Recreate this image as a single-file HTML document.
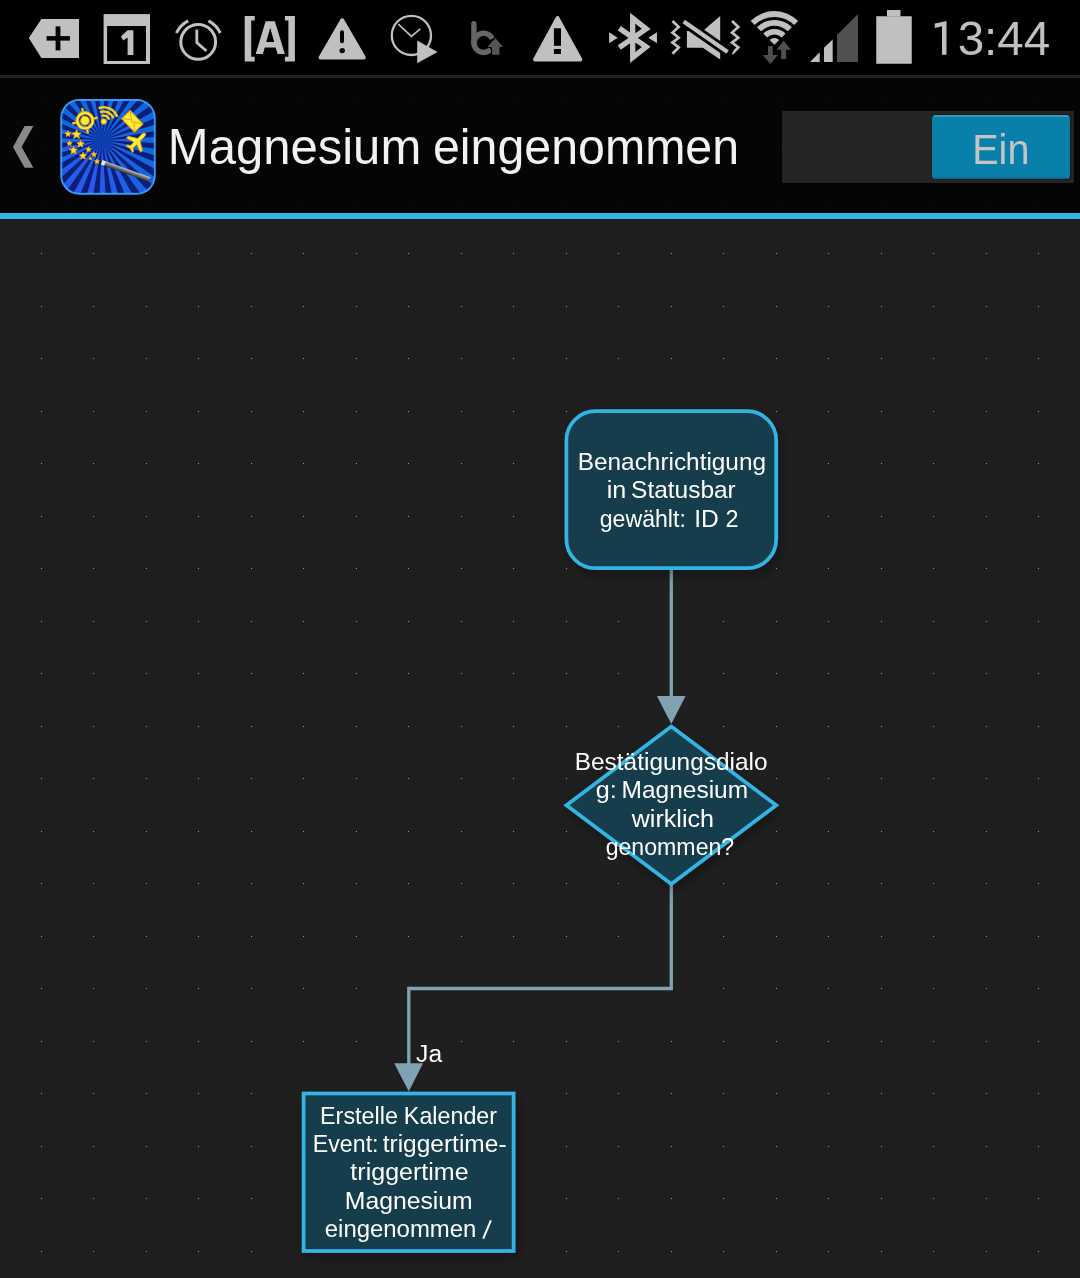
<!DOCTYPE html>
<html><head><meta charset="utf-8">
<style>
html,body{margin:0;padding:0;}
body{width:1080px;height:1278px;overflow:hidden;position:relative;background:#1f1f1f;font-family:"Liberation Sans",sans-serif;}
svg{position:absolute;left:0;top:0;}
</style></head><body>
<svg width="1080" height="1278" viewBox="0 0 1080 1278" style="font-family:'Liberation Sans',sans-serif">
<defs>
<filter id="sh" x="-30%" y="-30%" width="160%" height="160%"><feGaussianBlur in="SourceAlpha" stdDeviation="7"/><feOffset dx="3" dy="5"/><feComponentTransfer><feFuncA type="linear" slope="0.35"/></feComponentTransfer><feMerge><feMergeNode/><feMergeNode in="SourceGraphic"/></feMerge></filter>
<linearGradient id="wand" x1="0" y1="0" x2="0" y2="1"><stop offset="0" stop-color="#c8c8c8"/><stop offset="0.5" stop-color="#707070"/><stop offset="1" stop-color="#303030"/></linearGradient>
<radialGradient id="icbg" cx="0.25" cy="0.95" r="0.9"><stop offset="0" stop-color="#2a58f0"/><stop offset="1" stop-color="#1068de"/></radialGradient><radialGradient id="icc" cx="0.5" cy="0.5" r="0.5"><stop offset="0" stop-color="#0c3cb0" stop-opacity="1"/><stop offset="1" stop-color="#0c3cb0" stop-opacity="0"/></radialGradient>
<clipPath id="iclip"><rect x="62.2" y="100.9" width="91.6" height="91.9" rx="17"/></clipPath>
</defs>
<!-- canvas dots -->
<g fill="#9a9a9a"><rect x="41" y="96" width="1" height="1"/><rect x="41" y="148" width="1" height="1"/><rect x="41" y="201" width="1" height="1"/><rect x="41" y="253" width="1" height="1"/><rect x="41" y="306" width="1" height="1"/><rect x="41" y="358" width="1" height="1"/><rect x="41" y="411" width="1" height="1"/><rect x="41" y="463" width="1" height="1"/><rect x="41" y="516" width="1" height="1"/><rect x="41" y="568" width="1" height="1"/><rect x="41" y="621" width="1" height="1"/><rect x="41" y="673" width="1" height="1"/><rect x="41" y="726" width="1" height="1"/><rect x="41" y="778" width="1" height="1"/><rect x="41" y="831" width="1" height="1"/><rect x="41" y="883" width="1" height="1"/><rect x="41" y="936" width="1" height="1"/><rect x="41" y="988" width="1" height="1"/><rect x="41" y="1041" width="1" height="1"/><rect x="41" y="1093" width="1" height="1"/><rect x="41" y="1146" width="1" height="1"/><rect x="41" y="1198" width="1" height="1"/><rect x="41" y="1251" width="1" height="1"/><rect x="93" y="96" width="1" height="1"/><rect x="93" y="148" width="1" height="1"/><rect x="93" y="201" width="1" height="1"/><rect x="93" y="253" width="1" height="1"/><rect x="93" y="306" width="1" height="1"/><rect x="93" y="358" width="1" height="1"/><rect x="93" y="411" width="1" height="1"/><rect x="93" y="463" width="1" height="1"/><rect x="93" y="516" width="1" height="1"/><rect x="93" y="568" width="1" height="1"/><rect x="93" y="621" width="1" height="1"/><rect x="93" y="673" width="1" height="1"/><rect x="93" y="726" width="1" height="1"/><rect x="93" y="778" width="1" height="1"/><rect x="93" y="831" width="1" height="1"/><rect x="93" y="883" width="1" height="1"/><rect x="93" y="936" width="1" height="1"/><rect x="93" y="988" width="1" height="1"/><rect x="93" y="1041" width="1" height="1"/><rect x="93" y="1093" width="1" height="1"/><rect x="93" y="1146" width="1" height="1"/><rect x="93" y="1198" width="1" height="1"/><rect x="93" y="1251" width="1" height="1"/><rect x="146" y="96" width="1" height="1"/><rect x="146" y="148" width="1" height="1"/><rect x="146" y="201" width="1" height="1"/><rect x="146" y="253" width="1" height="1"/><rect x="146" y="306" width="1" height="1"/><rect x="146" y="358" width="1" height="1"/><rect x="146" y="411" width="1" height="1"/><rect x="146" y="463" width="1" height="1"/><rect x="146" y="516" width="1" height="1"/><rect x="146" y="568" width="1" height="1"/><rect x="146" y="621" width="1" height="1"/><rect x="146" y="673" width="1" height="1"/><rect x="146" y="726" width="1" height="1"/><rect x="146" y="778" width="1" height="1"/><rect x="146" y="831" width="1" height="1"/><rect x="146" y="883" width="1" height="1"/><rect x="146" y="936" width="1" height="1"/><rect x="146" y="988" width="1" height="1"/><rect x="146" y="1041" width="1" height="1"/><rect x="146" y="1093" width="1" height="1"/><rect x="146" y="1146" width="1" height="1"/><rect x="146" y="1198" width="1" height="1"/><rect x="146" y="1251" width="1" height="1"/><rect x="198" y="96" width="1" height="1"/><rect x="198" y="148" width="1" height="1"/><rect x="198" y="201" width="1" height="1"/><rect x="198" y="253" width="1" height="1"/><rect x="198" y="306" width="1" height="1"/><rect x="198" y="358" width="1" height="1"/><rect x="198" y="411" width="1" height="1"/><rect x="198" y="463" width="1" height="1"/><rect x="198" y="516" width="1" height="1"/><rect x="198" y="568" width="1" height="1"/><rect x="198" y="621" width="1" height="1"/><rect x="198" y="673" width="1" height="1"/><rect x="198" y="726" width="1" height="1"/><rect x="198" y="778" width="1" height="1"/><rect x="198" y="831" width="1" height="1"/><rect x="198" y="883" width="1" height="1"/><rect x="198" y="936" width="1" height="1"/><rect x="198" y="988" width="1" height="1"/><rect x="198" y="1041" width="1" height="1"/><rect x="198" y="1093" width="1" height="1"/><rect x="198" y="1146" width="1" height="1"/><rect x="198" y="1198" width="1" height="1"/><rect x="198" y="1251" width="1" height="1"/><rect x="251" y="96" width="1" height="1"/><rect x="251" y="148" width="1" height="1"/><rect x="251" y="201" width="1" height="1"/><rect x="251" y="253" width="1" height="1"/><rect x="251" y="306" width="1" height="1"/><rect x="251" y="358" width="1" height="1"/><rect x="251" y="411" width="1" height="1"/><rect x="251" y="463" width="1" height="1"/><rect x="251" y="516" width="1" height="1"/><rect x="251" y="568" width="1" height="1"/><rect x="251" y="621" width="1" height="1"/><rect x="251" y="673" width="1" height="1"/><rect x="251" y="726" width="1" height="1"/><rect x="251" y="778" width="1" height="1"/><rect x="251" y="831" width="1" height="1"/><rect x="251" y="883" width="1" height="1"/><rect x="251" y="936" width="1" height="1"/><rect x="251" y="988" width="1" height="1"/><rect x="251" y="1041" width="1" height="1"/><rect x="251" y="1093" width="1" height="1"/><rect x="251" y="1146" width="1" height="1"/><rect x="251" y="1198" width="1" height="1"/><rect x="251" y="1251" width="1" height="1"/><rect x="303" y="96" width="1" height="1"/><rect x="303" y="148" width="1" height="1"/><rect x="303" y="201" width="1" height="1"/><rect x="303" y="253" width="1" height="1"/><rect x="303" y="306" width="1" height="1"/><rect x="303" y="358" width="1" height="1"/><rect x="303" y="411" width="1" height="1"/><rect x="303" y="463" width="1" height="1"/><rect x="303" y="516" width="1" height="1"/><rect x="303" y="568" width="1" height="1"/><rect x="303" y="621" width="1" height="1"/><rect x="303" y="673" width="1" height="1"/><rect x="303" y="726" width="1" height="1"/><rect x="303" y="778" width="1" height="1"/><rect x="303" y="831" width="1" height="1"/><rect x="303" y="883" width="1" height="1"/><rect x="303" y="936" width="1" height="1"/><rect x="303" y="988" width="1" height="1"/><rect x="303" y="1041" width="1" height="1"/><rect x="303" y="1093" width="1" height="1"/><rect x="303" y="1146" width="1" height="1"/><rect x="303" y="1198" width="1" height="1"/><rect x="303" y="1251" width="1" height="1"/><rect x="356" y="96" width="1" height="1"/><rect x="356" y="148" width="1" height="1"/><rect x="356" y="201" width="1" height="1"/><rect x="356" y="253" width="1" height="1"/><rect x="356" y="306" width="1" height="1"/><rect x="356" y="358" width="1" height="1"/><rect x="356" y="411" width="1" height="1"/><rect x="356" y="463" width="1" height="1"/><rect x="356" y="516" width="1" height="1"/><rect x="356" y="568" width="1" height="1"/><rect x="356" y="621" width="1" height="1"/><rect x="356" y="673" width="1" height="1"/><rect x="356" y="726" width="1" height="1"/><rect x="356" y="778" width="1" height="1"/><rect x="356" y="831" width="1" height="1"/><rect x="356" y="883" width="1" height="1"/><rect x="356" y="936" width="1" height="1"/><rect x="356" y="988" width="1" height="1"/><rect x="356" y="1041" width="1" height="1"/><rect x="356" y="1093" width="1" height="1"/><rect x="356" y="1146" width="1" height="1"/><rect x="356" y="1198" width="1" height="1"/><rect x="356" y="1251" width="1" height="1"/><rect x="408" y="96" width="1" height="1"/><rect x="408" y="148" width="1" height="1"/><rect x="408" y="201" width="1" height="1"/><rect x="408" y="253" width="1" height="1"/><rect x="408" y="306" width="1" height="1"/><rect x="408" y="358" width="1" height="1"/><rect x="408" y="411" width="1" height="1"/><rect x="408" y="463" width="1" height="1"/><rect x="408" y="516" width="1" height="1"/><rect x="408" y="568" width="1" height="1"/><rect x="408" y="621" width="1" height="1"/><rect x="408" y="673" width="1" height="1"/><rect x="408" y="726" width="1" height="1"/><rect x="408" y="778" width="1" height="1"/><rect x="408" y="831" width="1" height="1"/><rect x="408" y="883" width="1" height="1"/><rect x="408" y="936" width="1" height="1"/><rect x="408" y="988" width="1" height="1"/><rect x="408" y="1041" width="1" height="1"/><rect x="408" y="1093" width="1" height="1"/><rect x="408" y="1146" width="1" height="1"/><rect x="408" y="1198" width="1" height="1"/><rect x="408" y="1251" width="1" height="1"/><rect x="461" y="96" width="1" height="1"/><rect x="461" y="148" width="1" height="1"/><rect x="461" y="201" width="1" height="1"/><rect x="461" y="253" width="1" height="1"/><rect x="461" y="306" width="1" height="1"/><rect x="461" y="358" width="1" height="1"/><rect x="461" y="411" width="1" height="1"/><rect x="461" y="463" width="1" height="1"/><rect x="461" y="516" width="1" height="1"/><rect x="461" y="568" width="1" height="1"/><rect x="461" y="621" width="1" height="1"/><rect x="461" y="673" width="1" height="1"/><rect x="461" y="726" width="1" height="1"/><rect x="461" y="778" width="1" height="1"/><rect x="461" y="831" width="1" height="1"/><rect x="461" y="883" width="1" height="1"/><rect x="461" y="936" width="1" height="1"/><rect x="461" y="988" width="1" height="1"/><rect x="461" y="1041" width="1" height="1"/><rect x="461" y="1093" width="1" height="1"/><rect x="461" y="1146" width="1" height="1"/><rect x="461" y="1198" width="1" height="1"/><rect x="461" y="1251" width="1" height="1"/><rect x="513" y="96" width="1" height="1"/><rect x="513" y="148" width="1" height="1"/><rect x="513" y="201" width="1" height="1"/><rect x="513" y="253" width="1" height="1"/><rect x="513" y="306" width="1" height="1"/><rect x="513" y="358" width="1" height="1"/><rect x="513" y="411" width="1" height="1"/><rect x="513" y="463" width="1" height="1"/><rect x="513" y="516" width="1" height="1"/><rect x="513" y="568" width="1" height="1"/><rect x="513" y="621" width="1" height="1"/><rect x="513" y="673" width="1" height="1"/><rect x="513" y="726" width="1" height="1"/><rect x="513" y="778" width="1" height="1"/><rect x="513" y="831" width="1" height="1"/><rect x="513" y="883" width="1" height="1"/><rect x="513" y="936" width="1" height="1"/><rect x="513" y="988" width="1" height="1"/><rect x="513" y="1041" width="1" height="1"/><rect x="513" y="1093" width="1" height="1"/><rect x="513" y="1146" width="1" height="1"/><rect x="513" y="1198" width="1" height="1"/><rect x="513" y="1251" width="1" height="1"/><rect x="566" y="96" width="1" height="1"/><rect x="566" y="148" width="1" height="1"/><rect x="566" y="201" width="1" height="1"/><rect x="566" y="253" width="1" height="1"/><rect x="566" y="306" width="1" height="1"/><rect x="566" y="358" width="1" height="1"/><rect x="566" y="411" width="1" height="1"/><rect x="566" y="463" width="1" height="1"/><rect x="566" y="516" width="1" height="1"/><rect x="566" y="568" width="1" height="1"/><rect x="566" y="621" width="1" height="1"/><rect x="566" y="673" width="1" height="1"/><rect x="566" y="726" width="1" height="1"/><rect x="566" y="778" width="1" height="1"/><rect x="566" y="831" width="1" height="1"/><rect x="566" y="883" width="1" height="1"/><rect x="566" y="936" width="1" height="1"/><rect x="566" y="988" width="1" height="1"/><rect x="566" y="1041" width="1" height="1"/><rect x="566" y="1093" width="1" height="1"/><rect x="566" y="1146" width="1" height="1"/><rect x="566" y="1198" width="1" height="1"/><rect x="566" y="1251" width="1" height="1"/><rect x="618" y="96" width="1" height="1"/><rect x="618" y="148" width="1" height="1"/><rect x="618" y="201" width="1" height="1"/><rect x="618" y="253" width="1" height="1"/><rect x="618" y="306" width="1" height="1"/><rect x="618" y="358" width="1" height="1"/><rect x="618" y="411" width="1" height="1"/><rect x="618" y="463" width="1" height="1"/><rect x="618" y="516" width="1" height="1"/><rect x="618" y="568" width="1" height="1"/><rect x="618" y="621" width="1" height="1"/><rect x="618" y="673" width="1" height="1"/><rect x="618" y="726" width="1" height="1"/><rect x="618" y="778" width="1" height="1"/><rect x="618" y="831" width="1" height="1"/><rect x="618" y="883" width="1" height="1"/><rect x="618" y="936" width="1" height="1"/><rect x="618" y="988" width="1" height="1"/><rect x="618" y="1041" width="1" height="1"/><rect x="618" y="1093" width="1" height="1"/><rect x="618" y="1146" width="1" height="1"/><rect x="618" y="1198" width="1" height="1"/><rect x="618" y="1251" width="1" height="1"/><rect x="671" y="96" width="1" height="1"/><rect x="671" y="148" width="1" height="1"/><rect x="671" y="201" width="1" height="1"/><rect x="671" y="253" width="1" height="1"/><rect x="671" y="306" width="1" height="1"/><rect x="671" y="358" width="1" height="1"/><rect x="671" y="411" width="1" height="1"/><rect x="671" y="463" width="1" height="1"/><rect x="671" y="516" width="1" height="1"/><rect x="671" y="568" width="1" height="1"/><rect x="671" y="621" width="1" height="1"/><rect x="671" y="673" width="1" height="1"/><rect x="671" y="726" width="1" height="1"/><rect x="671" y="778" width="1" height="1"/><rect x="671" y="831" width="1" height="1"/><rect x="671" y="883" width="1" height="1"/><rect x="671" y="936" width="1" height="1"/><rect x="671" y="988" width="1" height="1"/><rect x="671" y="1041" width="1" height="1"/><rect x="671" y="1093" width="1" height="1"/><rect x="671" y="1146" width="1" height="1"/><rect x="671" y="1198" width="1" height="1"/><rect x="671" y="1251" width="1" height="1"/><rect x="723" y="96" width="1" height="1"/><rect x="723" y="148" width="1" height="1"/><rect x="723" y="201" width="1" height="1"/><rect x="723" y="253" width="1" height="1"/><rect x="723" y="306" width="1" height="1"/><rect x="723" y="358" width="1" height="1"/><rect x="723" y="411" width="1" height="1"/><rect x="723" y="463" width="1" height="1"/><rect x="723" y="516" width="1" height="1"/><rect x="723" y="568" width="1" height="1"/><rect x="723" y="621" width="1" height="1"/><rect x="723" y="673" width="1" height="1"/><rect x="723" y="726" width="1" height="1"/><rect x="723" y="778" width="1" height="1"/><rect x="723" y="831" width="1" height="1"/><rect x="723" y="883" width="1" height="1"/><rect x="723" y="936" width="1" height="1"/><rect x="723" y="988" width="1" height="1"/><rect x="723" y="1041" width="1" height="1"/><rect x="723" y="1093" width="1" height="1"/><rect x="723" y="1146" width="1" height="1"/><rect x="723" y="1198" width="1" height="1"/><rect x="723" y="1251" width="1" height="1"/><rect x="776" y="96" width="1" height="1"/><rect x="776" y="148" width="1" height="1"/><rect x="776" y="201" width="1" height="1"/><rect x="776" y="253" width="1" height="1"/><rect x="776" y="306" width="1" height="1"/><rect x="776" y="358" width="1" height="1"/><rect x="776" y="411" width="1" height="1"/><rect x="776" y="463" width="1" height="1"/><rect x="776" y="516" width="1" height="1"/><rect x="776" y="568" width="1" height="1"/><rect x="776" y="621" width="1" height="1"/><rect x="776" y="673" width="1" height="1"/><rect x="776" y="726" width="1" height="1"/><rect x="776" y="778" width="1" height="1"/><rect x="776" y="831" width="1" height="1"/><rect x="776" y="883" width="1" height="1"/><rect x="776" y="936" width="1" height="1"/><rect x="776" y="988" width="1" height="1"/><rect x="776" y="1041" width="1" height="1"/><rect x="776" y="1093" width="1" height="1"/><rect x="776" y="1146" width="1" height="1"/><rect x="776" y="1198" width="1" height="1"/><rect x="776" y="1251" width="1" height="1"/><rect x="828" y="96" width="1" height="1"/><rect x="828" y="148" width="1" height="1"/><rect x="828" y="201" width="1" height="1"/><rect x="828" y="253" width="1" height="1"/><rect x="828" y="306" width="1" height="1"/><rect x="828" y="358" width="1" height="1"/><rect x="828" y="411" width="1" height="1"/><rect x="828" y="463" width="1" height="1"/><rect x="828" y="516" width="1" height="1"/><rect x="828" y="568" width="1" height="1"/><rect x="828" y="621" width="1" height="1"/><rect x="828" y="673" width="1" height="1"/><rect x="828" y="726" width="1" height="1"/><rect x="828" y="778" width="1" height="1"/><rect x="828" y="831" width="1" height="1"/><rect x="828" y="883" width="1" height="1"/><rect x="828" y="936" width="1" height="1"/><rect x="828" y="988" width="1" height="1"/><rect x="828" y="1041" width="1" height="1"/><rect x="828" y="1093" width="1" height="1"/><rect x="828" y="1146" width="1" height="1"/><rect x="828" y="1198" width="1" height="1"/><rect x="828" y="1251" width="1" height="1"/><rect x="881" y="96" width="1" height="1"/><rect x="881" y="148" width="1" height="1"/><rect x="881" y="201" width="1" height="1"/><rect x="881" y="253" width="1" height="1"/><rect x="881" y="306" width="1" height="1"/><rect x="881" y="358" width="1" height="1"/><rect x="881" y="411" width="1" height="1"/><rect x="881" y="463" width="1" height="1"/><rect x="881" y="516" width="1" height="1"/><rect x="881" y="568" width="1" height="1"/><rect x="881" y="621" width="1" height="1"/><rect x="881" y="673" width="1" height="1"/><rect x="881" y="726" width="1" height="1"/><rect x="881" y="778" width="1" height="1"/><rect x="881" y="831" width="1" height="1"/><rect x="881" y="883" width="1" height="1"/><rect x="881" y="936" width="1" height="1"/><rect x="881" y="988" width="1" height="1"/><rect x="881" y="1041" width="1" height="1"/><rect x="881" y="1093" width="1" height="1"/><rect x="881" y="1146" width="1" height="1"/><rect x="881" y="1198" width="1" height="1"/><rect x="881" y="1251" width="1" height="1"/><rect x="933" y="96" width="1" height="1"/><rect x="933" y="148" width="1" height="1"/><rect x="933" y="201" width="1" height="1"/><rect x="933" y="253" width="1" height="1"/><rect x="933" y="306" width="1" height="1"/><rect x="933" y="358" width="1" height="1"/><rect x="933" y="411" width="1" height="1"/><rect x="933" y="463" width="1" height="1"/><rect x="933" y="516" width="1" height="1"/><rect x="933" y="568" width="1" height="1"/><rect x="933" y="621" width="1" height="1"/><rect x="933" y="673" width="1" height="1"/><rect x="933" y="726" width="1" height="1"/><rect x="933" y="778" width="1" height="1"/><rect x="933" y="831" width="1" height="1"/><rect x="933" y="883" width="1" height="1"/><rect x="933" y="936" width="1" height="1"/><rect x="933" y="988" width="1" height="1"/><rect x="933" y="1041" width="1" height="1"/><rect x="933" y="1093" width="1" height="1"/><rect x="933" y="1146" width="1" height="1"/><rect x="933" y="1198" width="1" height="1"/><rect x="933" y="1251" width="1" height="1"/><rect x="986" y="96" width="1" height="1"/><rect x="986" y="148" width="1" height="1"/><rect x="986" y="201" width="1" height="1"/><rect x="986" y="253" width="1" height="1"/><rect x="986" y="306" width="1" height="1"/><rect x="986" y="358" width="1" height="1"/><rect x="986" y="411" width="1" height="1"/><rect x="986" y="463" width="1" height="1"/><rect x="986" y="516" width="1" height="1"/><rect x="986" y="568" width="1" height="1"/><rect x="986" y="621" width="1" height="1"/><rect x="986" y="673" width="1" height="1"/><rect x="986" y="726" width="1" height="1"/><rect x="986" y="778" width="1" height="1"/><rect x="986" y="831" width="1" height="1"/><rect x="986" y="883" width="1" height="1"/><rect x="986" y="936" width="1" height="1"/><rect x="986" y="988" width="1" height="1"/><rect x="986" y="1041" width="1" height="1"/><rect x="986" y="1093" width="1" height="1"/><rect x="986" y="1146" width="1" height="1"/><rect x="986" y="1198" width="1" height="1"/><rect x="986" y="1251" width="1" height="1"/><rect x="1038" y="96" width="1" height="1"/><rect x="1038" y="148" width="1" height="1"/><rect x="1038" y="201" width="1" height="1"/><rect x="1038" y="253" width="1" height="1"/><rect x="1038" y="306" width="1" height="1"/><rect x="1038" y="358" width="1" height="1"/><rect x="1038" y="411" width="1" height="1"/><rect x="1038" y="463" width="1" height="1"/><rect x="1038" y="516" width="1" height="1"/><rect x="1038" y="568" width="1" height="1"/><rect x="1038" y="621" width="1" height="1"/><rect x="1038" y="673" width="1" height="1"/><rect x="1038" y="726" width="1" height="1"/><rect x="1038" y="778" width="1" height="1"/><rect x="1038" y="831" width="1" height="1"/><rect x="1038" y="883" width="1" height="1"/><rect x="1038" y="936" width="1" height="1"/><rect x="1038" y="988" width="1" height="1"/><rect x="1038" y="1041" width="1" height="1"/><rect x="1038" y="1093" width="1" height="1"/><rect x="1038" y="1146" width="1" height="1"/><rect x="1038" y="1198" width="1" height="1"/><rect x="1038" y="1251" width="1" height="1"/></g>
<!-- edges -->
<g stroke="#7fa3b3" stroke-width="3.3" fill="none">
<line x1="671.3" y1="569" x2="671.3" y2="698"/>
<polyline points="671.3,884 671.3,988.5 408.8,988.5 408.8,1065"/>
</g>
<g fill="#7fa3b3">
<polygon points="656.9,696 685.6,696 671.3,724"/>
<polygon points="394.2,1063.2 423,1063.2 408.8,1091.6"/>
</g>
<g filter="url(#sh)" fill="#143e4b" stroke="#33b5e5" stroke-width="3.7">
<rect x="566.4" y="411.2" width="209.8" height="157" rx="29" ry="29"/>
<polygon points="671.3,726.5 776.2,805.2 671.3,884 566.4,805.2"/>
<rect x="303.6" y="1093.5" width="210" height="157.5"/>
</g>
<!-- status bar -->
<rect x="0" y="0" width="1080" height="75" fill="#000"/>
<rect x="0" y="75" width="1080" height="3" fill="#222"/>
<!-- header -->
<rect x="0" y="78" width="1080" height="135" fill="#000" fill-opacity="0.81"/>
<rect x="0" y="213" width="1080" height="6" fill="#33b5e5"/>
<polygon points="24.6,126 33.4,126 21.6,147.1 33.4,167.8 24.6,167.8 13,147.1" fill="#8a8a8a"/>
<!-- app icon -->
<g>
<rect x="60.3" y="99" width="95.4" height="95.7" rx="19" fill="#3a9cf4"/>
<g clip-path="url(#iclip)">
<rect x="61" y="100" width="94" height="94" fill="url(#icbg)"/>
<g fill="#0b1e78"><polygon points="102.20,140.30 222.05,146.30 220.62,159.68"/><polygon points="102.20,140.30 217.71,172.82 213.34,185.54"/><polygon points="102.20,140.30 207.58,197.70 200.49,209.14"/><polygon points="102.20,140.30 192.16,219.71 182.71,229.29"/><polygon points="102.20,140.30 172.24,237.74 160.89,244.97"/><polygon points="102.20,140.30 148.80,250.88 136.12,255.41"/><polygon points="102.20,140.30 123.02,258.48 109.66,260.07"/><polygon points="102.20,140.30 96.20,260.15 82.82,258.72"/><polygon points="102.20,140.30 69.68,255.81 56.96,251.44"/><polygon points="102.20,140.30 44.80,245.68 33.36,238.59"/><polygon points="102.20,140.30 22.79,230.26 13.21,220.81"/><polygon points="102.20,140.30 4.76,210.34 -2.47,198.99"/><polygon points="102.20,140.30 -8.38,186.90 -12.91,174.22"/><polygon points="102.20,140.30 -15.98,161.12 -17.57,147.76"/><polygon points="102.20,140.30 -17.65,134.30 -16.22,120.92"/><polygon points="102.20,140.30 -13.31,107.78 -8.94,95.06"/><polygon points="102.20,140.30 -3.18,82.90 3.91,71.46"/><polygon points="102.20,140.30 12.24,60.89 21.69,51.31"/><polygon points="102.20,140.30 32.16,42.86 43.51,35.63"/><polygon points="102.20,140.30 55.60,29.72 68.28,25.19"/><polygon points="102.20,140.30 81.38,22.12 94.74,20.53"/><polygon points="102.20,140.30 108.20,20.45 121.58,21.88"/><polygon points="102.20,140.30 134.72,24.79 147.44,29.16"/><polygon points="102.20,140.30 159.60,34.92 171.04,42.01"/><polygon points="102.20,140.30 181.61,50.34 191.19,59.79"/><polygon points="102.20,140.30 199.64,70.26 206.87,81.61"/><polygon points="102.20,140.30 212.78,93.70 217.31,106.38"/><polygon points="102.20,140.30 220.38,119.48 221.97,132.84"/></g><circle cx="102.2" cy="140.3" r="16" fill="url(#icc)"/>

<g fill="#ffeb2e" stroke="#f0a000" stroke-width="0.9">
<circle cx="85" cy="120.6" r="7.8" fill="none" stroke="#f5b000" stroke-width="3.4"/><circle cx="85" cy="120.6" r="7.8" fill="none" stroke="#ffeb2e" stroke-width="1.8"/>
<circle cx="85" cy="120.6" r="4.4"/>
<g stroke="#f8c800" stroke-width="2.4" transform="translate(0.6 0.6)"><line x1="82.38" y1="111.23" x2="81.48" y2="107.33"/><line x1="93.17" y1="117.98" x2="97.07" y2="117.08"/><line x1="86.42" y1="128.77" x2="87.32" y2="132.67"/><line x1="75.63" y1="122.02" x2="71.73" y2="122.92"/></g>
<g fill="none" stroke="#f8cc10" stroke-width="2.6"><path d="M 101.55 115.90 A 6 6 0 0 1 109.37 119.55"/><path d="M 100.12 112.16 A 10 10 0 0 1 113.16 118.24"/><path d="M 98.61 108.24 A 14.2 14.2 0 0 1 117.13 116.88"/></g>
<circle cx="103.7" cy="121.5" r="2.7"/>
<g transform="translate(132.3 121.3) rotate(46)"><rect x="-9.3" y="-5.9" width="18.6" height="11.8" fill="#ffef3a" stroke="#f0a000" stroke-width="1"/><path d="M -9.3 -5.9 L 0 0.8 L 9.3 -5.9 M -9.3 5.9 L -2.5 0 M 9.3 5.9 L 2.5 0" fill="none" stroke="#f0a000" stroke-width="0.9"/></g>
<g transform="translate(137.4 141.2) rotate(45)"><path d="M 0 -11 C 1.5 -11 1.8 -9 1.8 -7 L 1.8 -2 L 10 3 L 10 5.5 L 1.8 3 L 1.8 8 L 4.5 10 L 4.5 11.5 L 0 10.2 L -4.5 11.5 L -4.5 10 L -1.8 8 L -1.8 3 L -10 5.5 L -10 3 L -1.8 -2 L -1.8 -7 C -1.8 -9 -1.5 -11 0 -11 Z" fill="#ffef3a" stroke="#f0a000" stroke-width="0.9"/></g>
<polygon points="68.00,130.80 68.85,132.84 71.04,133.01 69.37,134.44 69.88,136.59 68.00,135.44 66.12,136.59 66.63,134.44 64.96,133.01 67.15,132.84"/><polygon points="76.50,129.70 77.77,132.75 81.07,133.02 78.55,135.17 79.32,138.38 76.50,136.66 73.68,138.38 74.45,135.17 71.93,133.02 75.23,132.75"/><polygon points="69.50,140.70 70.24,142.48 72.16,142.63 70.70,143.89 71.15,145.77 69.50,144.76 67.85,145.77 68.30,143.89 66.84,142.63 68.76,142.48"/><polygon points="80.50,140.20 81.51,142.62 84.11,142.83 82.13,144.53 82.73,147.07 80.50,145.71 78.27,147.07 78.87,144.53 76.89,142.83 79.49,142.62"/><polygon points="73.50,146.30 74.61,148.97 77.49,149.20 75.30,151.08 75.97,153.90 73.50,152.39 71.03,153.90 71.70,151.08 69.51,149.20 72.39,148.97"/><polygon points="88.50,146.70 89.24,148.48 91.16,148.63 89.70,149.89 90.15,151.77 88.50,150.76 86.85,151.77 87.30,149.89 85.84,148.63 87.76,148.48"/><polygon points="83.00,152.20 84.01,154.62 86.61,154.83 84.63,156.53 85.23,159.07 83.00,157.71 80.77,159.07 81.37,156.53 79.39,154.83 81.99,154.62"/><polygon points="94.00,151.90 94.69,153.55 96.47,153.70 95.11,154.86 95.53,156.60 94.00,155.67 92.47,156.60 92.89,154.86 91.53,153.70 93.31,153.55"/><polygon points="90.50,156.90 90.92,157.92 92.02,158.01 91.18,158.72 91.44,159.79 90.50,159.22 89.56,159.79 89.82,158.72 88.98,158.01 90.08,157.92"/><polygon points="97.00,158.90 97.69,160.55 99.47,160.70 98.11,161.86 98.53,163.60 97.00,162.67 95.47,163.60 95.89,161.86 94.53,160.70 96.31,160.55"/>
</g>
<g transform="translate(101.7 162.4) rotate(19.7)"><rect x="0" y="-2.4" width="51" height="4.8" fill="url(#wand)"/><rect x="0" y="-2.4" width="3.5" height="4.8" fill="#e8e8e8"/></g>
</g>
</g>
<!-- switch -->
<rect x="782" y="111" width="292" height="72" fill="#2a2a2a" fill-opacity="0.85"/>
<rect x="931" y="114" width="140" height="66" rx="4" fill="#1a1616" fill-opacity="0.8"/>
<rect x="932" y="115" width="138" height="64" rx="3.5" fill="#0880aa"/>
<rect x="934" y="115.3" width="134" height="1.4" fill="#4fb0d2" fill-opacity="0.8"/>
<rect x="934" y="177.4" width="134" height="1.4" fill="#05638a"/>
<!-- status icons -->
<g fill="#c0c0c0">
<polygon points="28.8,38 41.4,19 79,19 79,58 41.4,58"/>
<rect x="103.6" y="14.1" width="46.4" height="49.9"/>
</g>
<g fill="#000">
<rect x="46.6" y="36.1" width="23.3" height="4.5"/><rect x="55.6" y="26.4" width="4.8" height="24"/>
<rect x="107.1" y="26" width="38.9" height="35"/>
</g>
<polygon points="127.6,30.3 133.4,30.3 133.4,54.9 127.6,54.9 127.6,37.6 123.2,40.6 120.9,36.6" fill="#c0c0c0"/>
<g fill="none" stroke="#c0c0c0" stroke-width="3">
<circle cx="198.2" cy="41.9" r="17.4"/>
<polyline points="196.8,29.6 196.8,42.6 206.5,51" stroke-width="2.8"/>
</g>
<g fill="none" stroke="#c0c0c0" stroke-width="3">
<path d="M 176.4 33 A 25.5 25.5 0 0 1 188.2 20.8"/><path d="M 208.4 20.8 A 25.5 25.5 0 0 1 220.3 33"/>
</g>
<g fill="#c0c0c0">
<path d="M244.7,16 h10 v4.6 h-3.5 v36.2 h3.5 v4.6 h-10 z"/>
<path d="M294.9,16 h-10 v4.6 h3.5 v36.2 h-3.5 v4.6 h10 z"/>
<path d="M265.6,21.2 L274.8,21.2 L284.9,54 L277.6,54 L275.6,47.6 L264.8,47.6 L262.8,54 L255.7,54 Z M266.2,42 L274.2,42 L270.2,27.8 Z" fill-rule="evenodd"/>
<path d="M342.2,20.3 L363.8,57.4 L320.6,57.4 Z" stroke="#c0c0c0" stroke-width="4" stroke-linejoin="round"/>
</g>
<g fill="#000"><rect x="340" y="30.3" width="4" height="13" rx="2"/><circle cx="342.2" cy="50.6" r="2.7"/></g>
<circle cx="411.4" cy="35.4" r="19.6" fill="none" stroke="#c0c0c0" stroke-width="2.3"/>
<polyline points="398.3,24.2 411.4,36.4 420.3,28.9" fill="none" stroke="#c0c0c0" stroke-width="1.7"/>
<polygon points="417.2,40.6 437.5,51.9 417.2,63.3" fill="#c0c0c0"/>
<g fill="none" stroke="#666" stroke-width="5.4" stroke-linecap="round"><path d="M473.9,23.6 V43"/><path d="M492.3,38.84 A 9.6 9.6 0 1 0 490.95,49.07" stroke-linecap="butt"/></g>
<polygon points="495.4,38 503,47 499.4,47 499.4,54.7 492,54.7 492,47 487.3,47" fill="#555" stroke="#000" stroke-width="2.2" paint-order="stroke"/>
<path d="M557.5,18.1 L580.3,59.4 L535.1,59.4 Z" fill="#c0c0c0" stroke="#c0c0c0" stroke-width="4" stroke-linejoin="round"/>
<g fill="#000"><rect x="553.9" y="28.3" width="7.1" height="17.5"/><rect x="553.9" y="49" width="7.1" height="5"/></g>
<g fill="none" stroke="#c0c0c0" stroke-width="5.3" stroke-linejoin="miter" stroke-miterlimit="10">
<polyline points="619.3,28.3 646.2,46.9 632.7,57.6 632.7,18.2 646.2,28.9 619.3,47.5"/>
</g>
<g fill="#c0c0c0"><polygon points="609.1,32.3 609.1,43.3 617.8,37.8"/><polygon points="657,32.3 657,43.3 648.3,37.8"/></g>
<g fill="none" stroke="#c0c0c0" stroke-width="2.7" stroke-linejoin="miter">
<polyline points="672.4,21.1 678.7,27 672.4,32.6 678.7,37.8 672.4,42.6 678.7,47.4 672.4,53.7"/>
<polyline points="732,21.1 738.3,27 732,32.6 738.3,37.8 732,42.6 738.3,47.4 732,53.7"/>
</g>
<polygon points="686.9,31.1 702.8,31.1 720.2,15.9 720.2,59.6 702.8,47.8 686.9,47.8" fill="#c0c0c0"/>
<line x1="680" y1="19" x2="731" y2="54.5" stroke="#000" stroke-width="10"/>
<line x1="683.7" y1="21.5" x2="727.6" y2="52" stroke="#c0c0c0" stroke-width="4.1"/>
<g fill="#c0c0c0">
<path d="M 750.64 20.94 A 33.6 33.6 0 0 1 798.16 20.94 L 794.06 25.04 A 27.8 27.8 0 0 0 754.74 25.04 Z"/><path d="M 756.93 27.23 A 24.7 24.7 0 0 1 791.87 27.23 L 787.76 31.34 A 18.9 18.9 0 0 0 761.04 31.34 Z"/><path d="M 763.23 33.53 A 15.8 15.8 0 0 1 785.57 33.53 L 781.68 37.42 A 10.3 10.3 0 0 0 767.12 37.42 Z"/><path d="M 774.4 44.7 L 769.66 39.96 A 6.7 6.7 0 0 1 779.14 39.96 Z"/>
</g>
<g fill="#4e4e4e">
<polygon points="768,46.1 772.8,46.1 772.8,55 777.8,55 770.4,63.9 762.8,55 768,55"/>
<polygon points="783.6,40.8 791.1,49.7 786.1,49.7 786.1,58.9 781.1,58.9 781.1,49.7 776.4,49.7"/>
</g>
<polygon points="810,62 819.7,52.3 819.7,62" fill="#c0c0c0"/>
<polygon points="824,47.8 832.7,39.4 832.7,62 824,62" fill="#c0c0c0"/>
<polygon points="837,35 858,14 858,62 837,62" fill="#505050"/>
<rect x="876.25" y="16.25" width="35.5" height="47.5" fill="#c0c0c0"/>
<rect x="887" y="10" width="13.5" height="6.5" fill="#c0c0c0"/>
<polygon points="934.8,23.4 946.5,20.9 946.5,54.8 942,54.8 942,26.2 934.8,27.9" fill="#c0c0c0"/>
</svg>
<svg width="1080" height="1278" viewBox="0 0 1080 1278" style="font-family:'Liberation Sans',sans-serif;will-change:transform">
<text x="167.86" y="164.20" font-size="50" fill="#f2f2f2" textLength="253.35" lengthAdjust="spacingAndGlyphs">Magnesium</text>
<text x="433.00" y="164.20" font-size="50" fill="#f2f2f2" textLength="306.10" lengthAdjust="spacingAndGlyphs">eingenommen</text>
<text x="577.75" y="470.00" font-size="24.4" fill="#ffffff" textLength="188.27" lengthAdjust="spacingAndGlyphs">Benachrichtigung</text>
<text x="606.78" y="498.30" font-size="24.4" fill="#ffffff" textLength="19.56" lengthAdjust="spacingAndGlyphs">in</text>
<text x="631.09" y="498.30" font-size="24.4" fill="#ffffff" textLength="104.69" lengthAdjust="spacingAndGlyphs">Statusbar</text>
<text x="599.77" y="526.50" font-size="24.4" fill="#ffffff" textLength="86.07" lengthAdjust="spacingAndGlyphs">gewählt:</text>
<text x="694.17" y="526.50" font-size="24.4" fill="#ffffff" textLength="24.54" lengthAdjust="spacingAndGlyphs">ID</text>
<text x="725.57" y="526.50" font-size="24.4" fill="#ffffff" textLength="13.01" lengthAdjust="spacingAndGlyphs">2</text>
<text x="574.74" y="769.70" font-size="24.4" fill="#ffffff" textLength="192.84" lengthAdjust="spacingAndGlyphs">Bestätigungsdialo</text>
<text x="595.66" y="798.20" font-size="24.4" fill="#ffffff" textLength="20.98" lengthAdjust="spacingAndGlyphs">g:</text>
<text x="621.56" y="798.20" font-size="24.4" fill="#ffffff" textLength="126.59" lengthAdjust="spacingAndGlyphs">Magnesium</text>
<text x="631.72" y="826.60" font-size="24.4" fill="#ffffff" textLength="82.33" lengthAdjust="spacingAndGlyphs">wirklich</text>
<text x="605.63" y="855.10" font-size="24.4" fill="#ffffff" textLength="128.61" lengthAdjust="spacingAndGlyphs">genommen?</text>
<text x="320.04" y="1123.60" font-size="24.4" fill="#ffffff" textLength="77.88" lengthAdjust="spacingAndGlyphs">Erstelle</text>
<text x="403.87" y="1123.60" font-size="24.4" fill="#ffffff" textLength="93.17" lengthAdjust="spacingAndGlyphs">Kalender</text>
<text x="312.85" y="1151.50" font-size="24.4" fill="#ffffff" textLength="65.66" lengthAdjust="spacingAndGlyphs">Event:</text>
<text x="382.68" y="1151.50" font-size="24.4" fill="#ffffff" textLength="123.88" lengthAdjust="spacingAndGlyphs">triggertime-</text>
<text x="350.39" y="1180.00" font-size="24.4" fill="#ffffff" textLength="118.19" lengthAdjust="spacingAndGlyphs">triggertime</text>
<text x="344.81" y="1208.50" font-size="24.4" fill="#ffffff" textLength="127.95" lengthAdjust="spacingAndGlyphs">Magnesium</text>
<text x="324.76" y="1236.60" font-size="24.4" fill="#ffffff" textLength="151.67" lengthAdjust="spacingAndGlyphs">eingenommen</text>
<text x="416.08" y="1062.00" font-size="24.7" fill="#ffffff" textLength="26.01" lengthAdjust="spacingAndGlyphs">Ja</text>
<text x="972.22" y="163.90" font-size="43.3" fill="#c4c4c4" textLength="57.22" lengthAdjust="spacingAndGlyphs">Ein</text>
<text x="957.64" y="54.75" font-size="49" fill="#c0c0c0" textLength="92.56" lengthAdjust="spacingAndGlyphs">3:44</text>
<line x1="483.2" y1="1238.6" x2="490.9" y2="1220.4" stroke="#fff" stroke-width="2.1"/>
</svg>
</body></html>
